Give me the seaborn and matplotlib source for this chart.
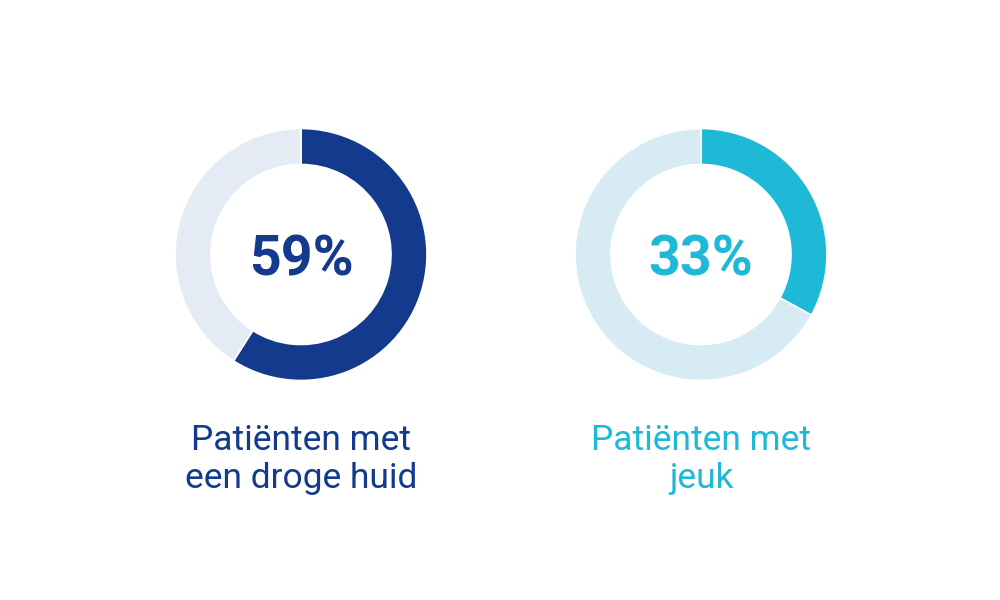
import matplotlib
matplotlib.use("Agg")
import matplotlib.pyplot as plt
import seaborn as sns

# values
shares = [59, 33]
value_labels = ["59%", "33%"]
captions = [["Patiënten met", "een droge huid"], ["Patiënten met", "jeuk"]]
main_colors = ["#133a8c", "#1fb9d8"]
rest_colors = ["#e4ebf4", "#d7ebf4"]

W, H = 1000, 600
CENTERS = [(301, 254.5), (701, 254.5)]
RADIUS = 126
RING = 36


def main():
    sns.set_theme(style="white")
    plt.rcParams["font.family"] = ["Roboto", "DejaVu Sans"]

    fig = plt.figure(figsize=(10, 6), dpi=100)
    fig.patch.set_facecolor("white")

    for (cx, cy), share, label, caption, col, rest in zip(
        CENTERS, shares, value_labels, captions, main_colors, rest_colors
    ):
        pad = 1.05
        size = 2 * RADIUS * pad
        ax = fig.add_axes([
            (cx - size / 2) / W,
            (H - cy - size / 2) / H,
            size / W,
            size / H,
        ])
        ax.pie(
            [share, 100 - share],
            colors=[col, rest],
            startangle=90,
            counterclock=False,
            radius=1,
            wedgeprops=dict(width=RING / RADIUS, edgecolor="white", linewidth=1.2),
        )
        ax.set_xlim(-pad, pad)
        ax.set_ylim(-pad, pad)
        ax.set_aspect("equal")
        ax.axis("off")
        ax.text(0, -0.045, label, ha="center", va="center", fontsize=40,
                fontweight="bold", color=col)

        fig.text(cx / W, 1 - 450 / H, caption[0], ha="center", va="baseline",
                 fontsize=25.5, color=col)
        fig.text(cx / W, 1 - 488 / H, caption[1], ha="center", va="baseline",
                 fontsize=25.5, color=col)

    fig.savefig("out.png", dpi=100, facecolor="white")
    plt.close(fig)


if __name__ == "__main__":
    main()
